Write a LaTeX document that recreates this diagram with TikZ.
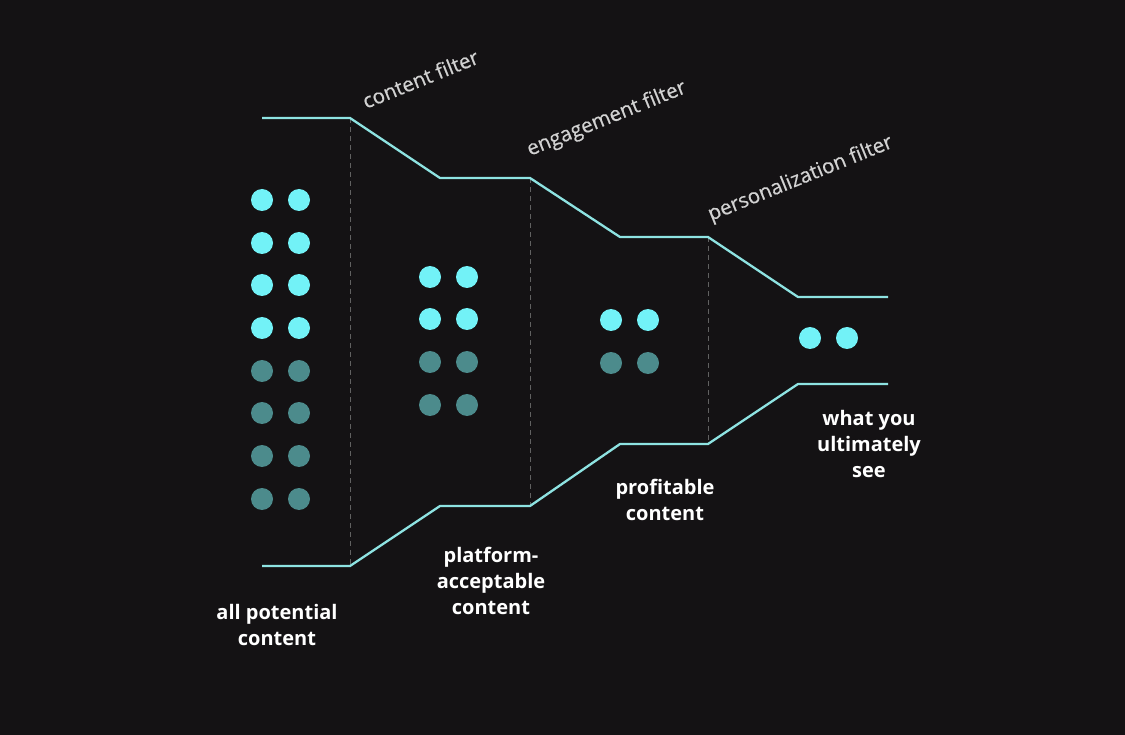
\documentclass[tikz,border=0pt]{standalone}
\usepackage{fontspec}
\setmainfont{Open Sans}
\newfontfamily\filterfont[FakeBold=0.6]{Open Sans}
\definecolor{bgdark}{HTML}{141214}
\definecolor{funnelline}{HTML}{8EE3E2}
\definecolor{dotlit}{HTML}{72F2F7}
\definecolor{dotdim}{HTML}{4C8B8C}
\definecolor{filtertext}{HTML}{D2D2D2}
\tikzset{
  funnel/.style={draw=funnelline, line width=2.3pt, line join=round},
  divider/.style={draw=black!62, line width=1pt, dash pattern=on 5pt off 4pt},
  filterlabel/.style={text=filtertext, font=\filterfont\fontsize{20.5}{24}\selectfont, rotate=22, anchor=base west, inner sep=0pt},
  stagelabel/.style={text=white, font=\bfseries\fontsize{20}{26}\selectfont, align=center, inner sep=0pt},
  dot/.style={circle, minimum size=22pt, inner sep=0pt}
}
\begin{document}
\begin{tikzpicture}[x=1pt,y=-1pt]
\fill[bgdark] (0,0) rectangle (1125,735);
\useasboundingbox (0,0) rectangle (1125,735);
% funnel corners
\coordinate (t0) at (262,118);
\coordinate (t1) at (350,118);
\coordinate (t2) at (440,178);
\coordinate (t3) at (530,178);
\coordinate (t4) at (620,237);
\coordinate (t5) at (708,237);
\coordinate (t6) at (798,297);
\coordinate (t7) at (888,297);
\coordinate (b0) at (262,566);
\coordinate (b1) at (350,566);
\coordinate (b2) at (440,506);
\coordinate (b3) at (530,506);
\coordinate (b4) at (620,444);
\coordinate (b5) at (708,444);
\coordinate (b6) at (798,384);
\coordinate (b7) at (888,384);
% filter dividers
\draw[divider] (t1) -- (b1);
\draw[divider] (t3) -- (b3);
\draw[divider] (t5) -- (b5);
\draw[funnel] (t0) -- (t1) -- (t2) -- (t3) -- (t4) -- (t5) -- (t6) -- (t7);
\draw[funnel] (b0) -- (b1) -- (b2) -- (b3) -- (b4) -- (b5) -- (b6) -- (b7);
% content dots
\foreach \y [count=\i] in {200,243,285,328,371,413,456,499} {
  \ifnum\i<5 \def\dotcol{dotlit}\else \def\dotcol{dotdim}\fi
  \node[dot, fill=\dotcol] (all-a\i) at (262,\y) {};
  \node[dot, fill=\dotcol] (all-b\i) at (299,\y) {};
}
\foreach \y [count=\i] in {277,319,362,405} {
  \ifnum\i<3 \def\dotcol{dotlit}\else \def\dotcol{dotdim}\fi
  \node[dot, fill=\dotcol] (plat-a\i) at (430,\y) {};
  \node[dot, fill=\dotcol] (plat-b\i) at (467,\y) {};
}
\node[dot, fill=dotlit] (prof-a1) at (611,320) {};
\node[dot, fill=dotlit] (prof-b1) at (648,320) {};
\node[dot, fill=dotdim] (prof-a2) at (611,363) {};
\node[dot, fill=dotdim] (prof-b2) at (648,363) {};
\node[dot, fill=dotlit] (see-a1) at (810,338) {};
\node[dot, fill=dotlit] (see-b1) at (847,338) {};
% filter names
\node[filterlabel] (contentfilter) at (366,109) {content filter};
\node[filterlabel] (engagefilter) at (530,156) {engagement filter};
\node[filterlabel] (personalfilter) at (711,221) {personalization filter};
% stage names
\node[stagelabel] (allcontent) at (277,625) {all potential\\content};
\node[stagelabel] (platcontent) at (491,581) {platform-\\acceptable\\content};
\node[stagelabel] (profcontent) at (665,500) {profitable\\content};
\node[stagelabel] (whatyousee) at (869,444) {what you\\ultimately\\see};
\end{tikzpicture}
\end{document}
